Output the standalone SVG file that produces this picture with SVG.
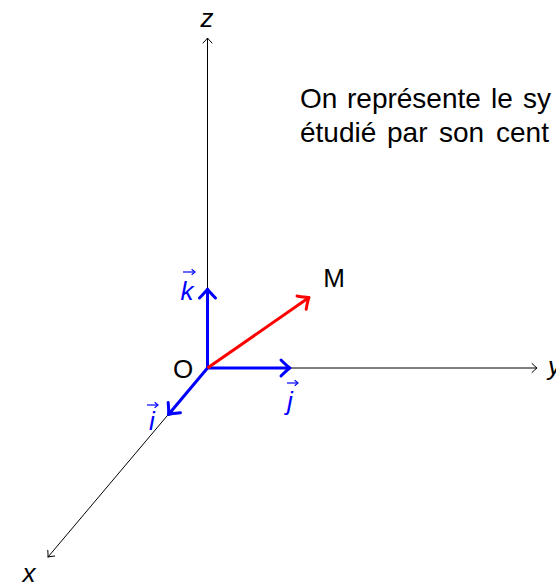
<svg xmlns="http://www.w3.org/2000/svg" width="556" height="585" viewBox="0 0 556 585">
<style>
.axis{stroke:#000;stroke-width:1;fill:none}
.vb{stroke:#0000ff;stroke-width:3;fill:none}
.vr{stroke:#ff0000;stroke-width:3;fill:none}
.acc{stroke:#0000ff;stroke-width:1.2;fill:none}
.lbl{font-family:"Liberation Sans",Arial,sans-serif;font-size:26px;fill:#000}
.ital{font-family:"Liberation Sans",Arial,sans-serif;font-size:26px;font-style:italic;fill:#000}
.bl{fill:#0000ff}
.para{font-family:"Liberation Sans",Arial,sans-serif;font-size:28px;fill:#000}
</style>
<defs>
<marker id="thin" markerUnits="userSpaceOnUse" orient="auto" refX="0" refY="0" markerWidth="12" markerHeight="12" overflow="visible">
<path d="M -5,-4.5 Q -1.5,-1 0,0 Q -1.5,1 -5,4.5" fill="none" stroke="#000" stroke-width="1" stroke-linecap="round"/>
</marker>
<marker id="thickB" markerUnits="userSpaceOnUse" orient="auto" refX="0" refY="0" markerWidth="20" markerHeight="20" overflow="visible">
<path d="M -9,-8 Q -2.5,-1.5 0,0 Q -2.5,1.5 -9,8" fill="none" stroke="#0000ff" stroke-width="3" stroke-linecap="round" stroke-linejoin="round"/>
</marker>
<marker id="thickR" markerUnits="userSpaceOnUse" orient="auto" refX="0" refY="0" markerWidth="20" markerHeight="20" overflow="visible">
<path d="M -9,-8 Q -2.5,-1.5 0,0 Q -2.5,1.5 -9,8" fill="none" stroke="#ff0000" stroke-width="3" stroke-linecap="round" stroke-linejoin="round"/>
</marker>
<marker id="accB" markerUnits="userSpaceOnUse" orient="auto" refX="0" refY="0" markerWidth="8" markerHeight="8" overflow="visible">
<path d="M -3,-2.5 Q -1,-0.6 0,0 Q -1,0.6 -3,2.5" fill="none" stroke="#0000ff" stroke-width="1.1" stroke-linecap="round"/>
</marker>
</defs>

<g id="text">
<text class="para" y="108"><tspan x="300">On</tspan><tspan x="347">représente</tspan><tspan x="491">le</tspan><tspan x="523">sy</tspan></text>
<text class="para" y="142"><tspan x="300">étudié</tspan><tspan x="387">par</tspan><tspan x="439">son</tspan><tspan x="496">cent</tspan></text>
</g>

<g id="connectors">
<line class="axis" x1="207.5" y1="368" x2="207.5" y2="38" marker-end="url(#thin)"/>
<line class="axis" x1="207.5" y1="368" x2="537" y2="368" marker-end="url(#thin)"/>
<line class="axis" x1="207.5" y1="368" x2="48" y2="557" marker-end="url(#thin)"/>
<line class="vb" x1="207.5" y1="368" x2="207.5" y2="289" marker-end="url(#thickB)"/>
<line class="vb" x1="207.5" y1="368" x2="290" y2="368" marker-end="url(#thickB)"/>
<line class="vb" x1="207.5" y1="368" x2="168.5" y2="414.5" marker-end="url(#thickB)"/>
<line class="vr" x1="207.5" y1="368" x2="309" y2="297.5" marker-end="url(#thickR)"/>
</g>

<g id="axis-z"><text class="ital" x="207" y="27" text-anchor="middle">z</text></g>
<g id="axis-x"><text class="ital" x="29" y="582" text-anchor="middle">x</text></g>
<g id="axis-y"><text class="ital" x="548" y="375">y</text></g>

<g id="label-O"><text class="lbl" x="183" y="378" text-anchor="middle">O</text></g>
<g id="label-M"><text class="lbl" x="334" y="287" text-anchor="middle">M</text></g>

<g id="vec-k">
<text class="ital bl" x="187" y="300" text-anchor="middle">k</text>
<line class="acc" x1="183" y1="272" x2="195" y2="272" marker-end="url(#accB)"/>
</g>
<g id="vec-j">
<text class="ital bl" x="290" y="410" text-anchor="middle">j</text>
<line class="acc" x1="287" y1="383" x2="298" y2="383" marker-end="url(#accB)"/>
</g>
<g id="vec-i">
<text class="ital bl" x="152" y="430" text-anchor="middle">i</text>
<line class="acc" x1="147" y1="405" x2="158" y2="405" marker-end="url(#accB)"/>
</g>
</svg>
